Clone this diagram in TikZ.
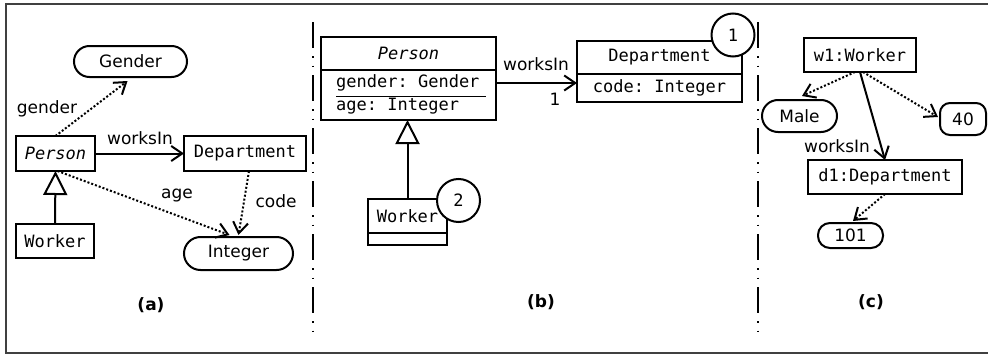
\documentclass[tikz,border=0pt]{standalone}
\usepackage{fontspec}
\setmainfont{DejaVu Sans}
\setmonofont{DejaVu Sans Mono}
\usetikzlibrary{arrows.meta}
\begin{document}
\begin{tikzpicture}[x=1pt,y=-1pt,
  every node/.style={font=\fontsize{17}{20}\selectfont, inner sep=0pt},
  box/.style={draw, line width=2pt, fill=white, outer sep=0pt, font=\fontsize{17}{20}\selectfont\ttfamily},
  dt/.style={draw, line width=2pt, rounded corners=15.5pt},
  circ/.style={draw, circle, line width=2pt, fill=white, minimum size=43pt, font=\fontsize{17}{20}\selectfont\ttfamily},
  arr/.style={line width=2pt, -{Straight Barb[length=11pt,width=15pt]}},
  dotarr/.style={line width=2pt, dash pattern=on 2pt off 2pt, -{Straight Barb[length=11pt,width=15pt]}},
  inh/.style={line width=2pt, -{Triangle[open,length=24pt,width=24pt,fill=white]}},
  sep/.style={line width=2pt, dash pattern=on 26pt off 8pt on 1.5pt off 8pt on 1.5pt off 8pt},
  lbl/.style={font=\fontsize{17}{20}\selectfont\bfseries}
]
\useasboundingbox (0,0) rectangle (988,356);
% frame
\draw[line width=1.5pt, black!75] (988,4) -- (6,4) -- (6,353) -- (988,353);
% separators
\draw[sep] (313,22) -- (313,338);
\draw[sep] (758,22) -- (758,338);

% ---------- panel (a)
\node[box, minimum width=79pt, minimum height=35pt] (aP) at (55.5,153.5) {\itshape Person};
\node[box, minimum width=122pt, minimum height=35pt] (aD) at (245,153.5) {Department};
\node[box, minimum width=78pt, minimum height=34pt] (aW) at (55,241) {Worker};
\node[dt, minimum width=113pt, minimum height=31pt] (aG) at (130.5,61.5) {Gender};
\node[dt, minimum width=109pt, minimum height=33pt, rounded corners=16.5pt] (aI) at (238.5,253.5) {Integer};

\draw[dotarr] (aP.north) -- ([xshift=-3pt,yshift=-3pt]aG.south);
\draw[arr] (aP.east) -- (aD.west);
\draw[dotarr] ([xshift=2pt]aP.south) -- ([xshift=-9pt,yshift=1pt]aI.north);
\draw[dotarr] ([xshift=4pt]aD.south) -- ([yshift=1pt]aI.north);
\draw[inh] (aW.north) -- (aP.south);

\node (lgender) at (47,109) {gender};
\node (lworks) at (140,138) {worksIn};
\node (lage) at (177,196) {age};
\node (lcode) at (276,201) {code};
\node[lbl] (la) at (151,305) {(a)};

% ---------- panel (b)
\node[box, minimum width=175pt, minimum height=33pt] (bPn) at (408.5,53.5) {\itshape Person};
\node[box, minimum width=175pt, minimum height=50pt, anchor=north] (bPa) at (bPn.south) {};
\node[anchor=west, font=\fontsize{17}{20}\selectfont\ttfamily] (bg) at (336,83) {gender: Gender};
\node[anchor=west, font=\fontsize{17}{20}\selectfont\ttfamily] (ba) at (336,106) {age: Integer};
\draw[line width=1.3pt] (336,96.5) -- (486,96.5);

\node[box, minimum width=165pt, minimum height=33pt] (bDn) at (659.5,57.5) {Department};
\node[box, minimum width=165pt, minimum height=28pt, anchor=north] (bDa) at (bDn.south) {code: Integer};
\node[circ] (c1) at (733,35) {1};

\draw[arr] (bPa.east |- bg.center) -- (bDa.west |- bg.center);
\node (bworks) at (536,64) {worksIn};
\node (bone) at (555,99) {1};

\node[box, minimum width=79pt, minimum height=34pt] (bWn) at (407.5,216) {Worker};
\node[box, minimum width=79pt, minimum height=12pt, anchor=north] (bWa) at (bWn.south) {};
\node[circ] (c2) at (458.5,200.5) {2};
\draw[inh] (bWn.north) -- (bWn.north |- bPa.south);
\node[lbl] (lb) at (541,302) {(b)};

% ---------- panel (c)
\node[box, minimum width=112pt, minimum height=34pt] (w1) at (860,55) {w1:Worker};
\node[dt, minimum width=75pt, minimum height=32pt, rounded corners=16pt] (male) at (799.5,116) {Male};
\node[dt, minimum width=46pt, minimum height=32pt, rounded corners=10pt] (v40) at (963,119) {40};
\node[box, minimum width=154pt, minimum height=34pt] (d1) at (885,177) {d1:Department};
\node[dt, minimum width=65pt, minimum height=25pt, rounded corners=12pt] (v101) at (850.5,235.5) {101};

\draw[dotarr] ([xshift=-5pt]w1.south) -- ([xshift=2.5pt,yshift=3pt]male.north);
\draw[dotarr] ([xshift=3pt]w1.south) -- ([xshift=-1pt,yshift=2pt]v40.west);
\draw[arr] (w1.south) -- (d1.north);
\draw[dotarr] (d1.south) -- ([xshift=2.5pt,yshift=1pt]v101.north);
\node (cworks) at (837,146) {worksIn};
\node[lbl] (lc) at (871,302) {(c)};
\end{tikzpicture}
\end{document}
